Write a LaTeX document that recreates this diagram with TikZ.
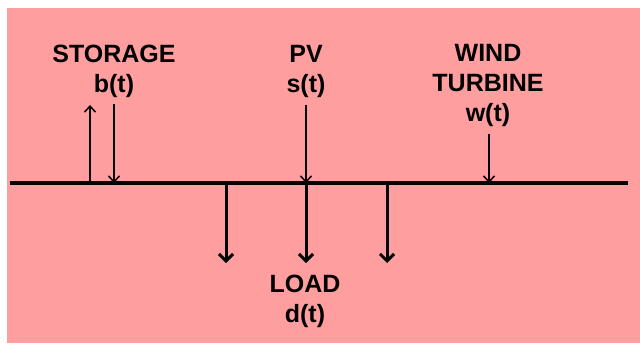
\documentclass[tikz,border=0pt]{standalone}
\usepackage{fontspec}
\setmainfont{Liberation Sans}
\usetikzlibrary{arrows.meta}
\definecolor{busbg}{HTML}{FF9E9E}
\begin{document}
\begin{tikzpicture}[x=1pt, y=-1pt, thick]
  \tikzstyle{src} = [font=\bfseries\fontsize{25}{30}\selectfont, align=center, inner sep=0pt, anchor=north]
  \tikzstyle{feed} = [draw, line width=1.5pt, -{Straight Barb[length=6pt,width=11pt,line width=1.5pt]}]
  \tikzstyle{drain} = [draw, line width=3pt, -{Straight Barb[length=7pt,width=14pt,line width=3pt]}]
  \tikzstyle{bus} = [draw, line width=4pt]

  \useasboundingbox (0,0) rectangle (640,343);
  \fill[busbg] (7,8) rectangle (640,343);

  % sources and load
  \node [src] (storage) at (114,45) {STORAGE\\b(t)};
  \node [src] (pv) at (306,45) {PV\\s(t)};
  \node [src] (wind) at (488,44) {WIND\\TURBINE\\w(t)};
  \node [src] (load) at (305,275) {LOAD\\d(t)};

  % bus bar
  \coordinate (busw) at (10,183);
  \coordinate (buse) at (628,183);
  \path [bus] (busw) -- (buse);

  % taps on the bus
  \coordinate (stout) at (90,183);
  \coordinate (stouttop) at (90,105);
  \coordinate (stin) at (114,183);
  \coordinate (stintop) at (114,104);
  \coordinate (pvin) at (306,183);
  \coordinate (pvtop) at (306,105);
  \coordinate (wdin) at (489,183);
  \coordinate (wdtop) at (489,134);

  \path [feed] (stout) -- (stouttop);
  \path [feed] (stintop) -- (stin);
  \path [feed] (pvtop) -- (pvin);
  \path [feed] (wdtop) -- (wdin);

  % loads
  \foreach \x/\n in {226/a, 306/b, 387/c} {
    \coordinate (ld\n) at (\x,183);
    \coordinate (ldend\n) at (\x,263);
    \path [drain] (ld\n) -- (ldend\n);
  }
\end{tikzpicture}
\end{document}
